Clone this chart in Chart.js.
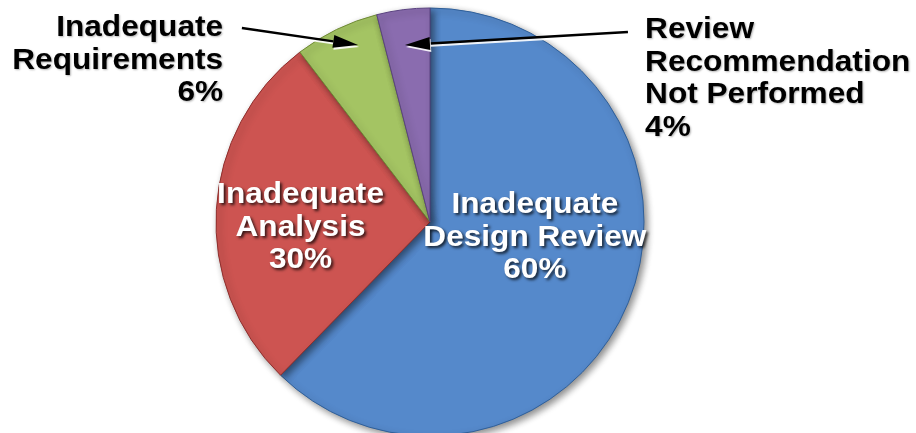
<!DOCTYPE html>
<html>
<head>
<meta charset="utf-8">
<script src="https://cdn.jsdelivr.net/npm/chart.js@4/dist/chart.umd.min.js"></script>
<style>
    html, body { margin: 0; padding: 0; background: #ffffff; }
    #wrap { width: 916px; height: 433px; position: relative; }
</style>
</head>
<body>
<div id="wrap"><canvas id="myChart" width="916" height="433"></canvas></div>
<script>
//-------------------------DATA-----------------------------------------------------

var categories = ['Inadequate Design Review', 'Inadequate Analysis', 'Inadequate Requirements', 'Review Recommendation Not Performed'];
var shares = [62.3, 27.3, 6.4, 4.0];                 // slice sizes as drawn in the picture
var percentText = ['60%', '30%', '6%', '4%'];         // what the labels say
var labelLines = [
    ['Inadequate', 'Design Review'],
    ['Inadequate', 'Analysis'],
    ['Inadequate', 'Requirements'],
    ['Review', 'Recommendation', 'Not Performed']
];
var baseColors = ['#5589cb', '#cd5451', '#a4c463', '#8a6caf'];
var lightColors = ['#8fb8ea', '#e88d8a', '#cde49a', '#b59fd2'];
var darkColors = ['#2f5f99', '#8e2f2d', '#6f8a35', '#5a4280'];

//-------------------------HELPERS-----------------------------------------------------

function sliceFill(context) {
    var chart = context.chart;
    var i = context.dataIndex;
    var arc = chart.getDatasetMeta(0).data[i];
    if (!arc || !arc.outerRadius) {
        return baseColors[i];
    }
    var r = arc.outerRadius;
    var g = chart.ctx.createRadialGradient(arc.x, arc.y, 0, arc.x, arc.y, r);
    g.addColorStop(0, baseColors[i]);
    g.addColorStop(0.93, baseColors[i]);
    g.addColorStop(0.955, lightColors[i]);
    g.addColorStop(0.975, baseColors[i]);
    g.addColorStop(1, darkColors[i]);
    return g;
}

function arrow(ctx, x1, y1, x2, y2) {
    var ang = Math.atan2(y2 - y1, x2 - x1);
    var len = 25, half = 6.5;
    var bx = x2 - len * Math.cos(ang), by = y2 - len * Math.sin(ang);
    ctx.beginPath();
    ctx.moveTo(x1, y1);
    ctx.lineTo(bx, by);
    ctx.lineWidth = 2.5;
    ctx.strokeStyle = '#000000';
    ctx.stroke();
    ctx.beginPath();
    ctx.moveTo(x2, y2);
    ctx.lineTo(bx - half * Math.sin(ang), by + half * Math.cos(ang));
    ctx.lineTo(bx + half * Math.sin(ang), by - half * Math.cos(ang));
    ctx.closePath();
    ctx.fillStyle = '#000000';
    ctx.fill();
}

function wideText(ctx, text, x, y) {       // text is a bit wider than plain Arial in the picture
    ctx.save();
    ctx.translate(x, y);
    ctx.scale(1.09, 1);
    ctx.fillText(text, 0, 0);
    ctx.restore();
}

//-------------------------PLUGINS-----------------------------------------------------

var shadowPlugin = {
    id: 'pieShadow',
    beforeDatasetsDraw: function(chart) {
        var ctx = chart.ctx;
        ctx.save();
        ctx.shadowColor = 'rgba(0,0,0,0.45)';
        ctx.shadowBlur = 7;
        ctx.shadowOffsetX = 3;
        ctx.shadowOffsetY = 3;
    },
    afterDatasetsDraw: function(chart) {
        chart.ctx.restore();
    }
};

var labelPlugin = {
    id: 'pieLabels',
    afterDraw: function(chart) {
        var ctx = chart.ctx;
        var arc = chart.getDatasetMeta(0).data[0];
        var cx = arc.x, cy = arc.y, r = arc.outerRadius;
        var lh = 32.5;
        ctx.save();
        ctx.font = 'bold 29px "Liberation Sans", Arial, sans-serif';
        ctx.textBaseline = 'alphabetic';

        // labels inside the two big slices
        var inner = [[0.49, -0.042], [-0.605, -0.087]];
        for (let i = 0; i < 2; i++) {
            var lines = labelLines[i].concat([percentText[i]]);
            ctx.textAlign = 'center';
            ctx.shadowColor = 'rgba(0,0,0,0.75)';
            ctx.shadowBlur = 3;
            ctx.shadowOffsetX = 2;
            ctx.shadowOffsetY = 2;
            ctx.fillStyle = '#ffffff';
            for (let j = 0; j < lines.length; j++) {
                wideText(ctx, lines[j], cx + inner[i][0] * r, cy + inner[i][1] * r + j * lh);
            }
        }

        // arrows for the two small slices
        ctx.shadowColor = 'rgba(255,255,255,0.9)';
        ctx.shadowBlur = 0;
        ctx.shadowOffsetX = 1;
        ctx.shadowOffsetY = 2;
        arrow(ctx, cx - 0.879 * r, cy - 0.907 * r, cx - 0.336 * r, cy - 0.827 * r);
        arrow(ctx, cx + 0.925 * r, cy - 0.888 * r, cx - 0.117 * r, cy - 0.827 * r);

        // labels outside
        ctx.shadowColor = 'rgba(0,0,0,0.3)';
        ctx.shadowBlur = 2;
        ctx.shadowOffsetX = 1;
        ctx.shadowOffsetY = 1;
        ctx.fillStyle = '#000000';
        var outer = [[2, -0.967, -0.867, 'right'], [3, 1.005, -0.858, 'left']];
        for (let k = 0; k < outer.length; k++) {
            var idx = outer[k][0];
            var lines2 = labelLines[idx].concat([percentText[idx]]);
            ctx.textAlign = outer[k][3];
            for (let j = 0; j < lines2.length; j++) {
                wideText(ctx, lines2[j], cx + outer[k][1] * r, cy + outer[k][2] * r + j * lh);
            }
        }
        ctx.restore();
    }
};

//-------------------------CHART-----------------------------------------------------

var ctx = document.getElementById('myChart').getContext('2d');
var chart = new Chart(ctx, {
    type: 'pie',
    data: {
        labels: categories,
        datasets: [{
            data: shares,
            backgroundColor: sliceFill,
            borderColor: darkColors,
            borderWidth: 1,
            radius: 214
        }]
    },
    options: {
        responsive: false,
        animation: false,
        layout: { padding: { top: 11, bottom: 0, left: 0, right: 56 } },
        plugins: {
            legend: { display: false },
            tooltip: { enabled: false }
        }
    },
    plugins: [shadowPlugin, labelPlugin]
});
</script>
</body>
</html>
